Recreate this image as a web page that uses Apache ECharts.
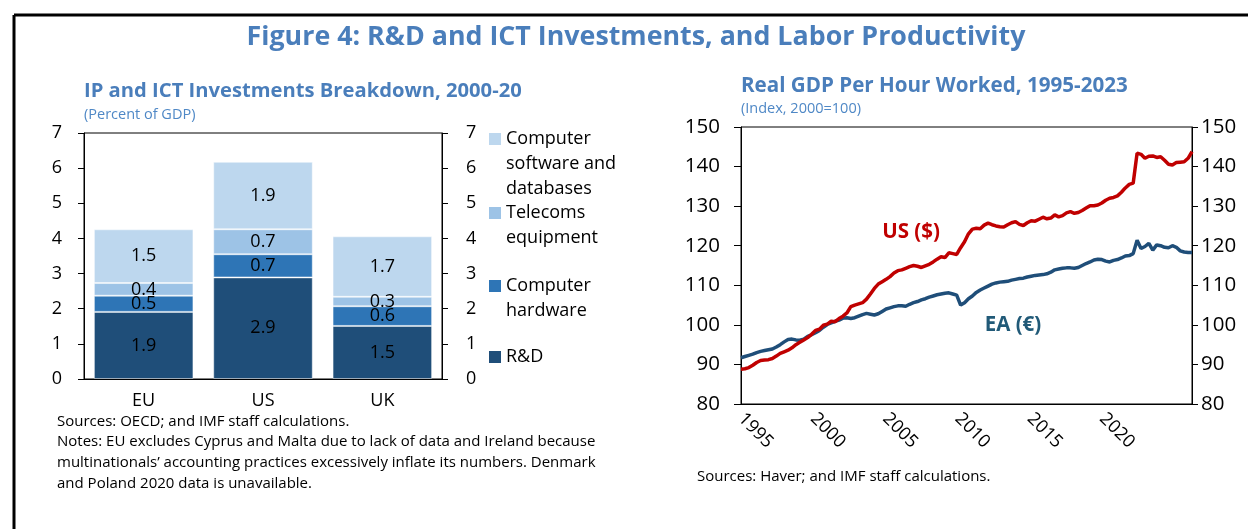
<!DOCTYPE html>
<html>
<head>
<meta charset="utf-8">
<script src="https://cdn.jsdelivr.net/npm/echarts@6/dist/echarts.min.js"></script>
<style>
  html, body { margin: 0; padding: 0; background: #fff; }
  #chart { width: 1248px; height: 529px; }
</style>
</head>
<body>
<div id="chart"></div>
<script>
// left panel: IP and ICT investments, percent of GDP
var countries = ['EU', 'US', 'UK'];
var rnd = [1.91, 2.89, 1.51];
var hardware = [0.46, 0.66, 0.56];
var telecoms = [0.36, 0.71, 0.27];
var software = [1.53, 1.92, 1.72];

// right panel: real GDP per hour worked, quarterly 1995Q1-2023Q4
var usIndex = [
  88.8, 88.9, 89.2, 89.8,  90.5, 91.0, 91.1, 91.2,  91.5, 92.1, 92.8, 93.2,
  93.6, 94.2, 95.0, 95.6,  96.2, 96.8, 97.6, 98.6,  98.9, 99.9, 100.2, 100.9,
  100.8, 101.6, 102.2, 103.0,  104.6, 105.0, 105.3, 105.6,  106.5, 107.8, 109.2, 110.3,
  110.9, 111.5, 112.2, 113.1,  113.7, 113.9, 114.3, 114.7,  115.0, 114.8, 114.5, 114.9,
  115.3, 115.9, 116.6, 117.2,  117.0, 118.2, 118.0, 117.8,  119.5, 121.0, 123.0, 124.2,
  124.4, 124.3, 125.2, 125.7,  125.3, 125.0, 124.8, 124.7,  125.3, 125.8, 126.1, 125.4,
  125.1, 125.8, 126.3, 126.2,  126.7, 127.2, 126.8, 127.0,  127.8, 127.3, 127.6, 128.3,
  128.6, 128.2, 128.4, 128.9,  129.5, 130.1, 130.1, 130.3,  130.8, 131.5, 132.0, 132.2,
  132.6, 133.5, 134.6, 135.5,  135.8, 143.4, 143.1, 142.1,  142.6, 142.7, 142.3, 142.5,
  141.6, 140.6, 140.4, 141.0,  141.1, 141.2, 142.1, 143.8
];
var eaIndex = [
  91.7, 92.0, 92.3, 92.6,  93.0, 93.3, 93.5, 93.7,  93.9, 94.4, 95.0, 95.7,
  96.3, 96.4, 96.2, 96.1,  96.4, 97.1, 97.5, 98.0,  98.6, 99.4, 100.1, 100.5,
  100.9, 101.2, 101.7, 101.8,  101.6, 101.8, 102.2, 102.6,  102.9, 102.7, 102.5, 102.8,
  103.4, 104.0, 104.3, 104.6,  104.8, 104.8, 104.7, 105.2,  105.6, 105.9, 106.3, 106.6,
  107.0, 107.3, 107.6, 107.8,  108.0, 108.1, 107.8, 107.5,  105.0, 105.6, 106.6, 107.3,
  108.2, 108.8, 109.3, 109.8,  110.3, 110.6, 110.8, 110.9,  111.0, 111.3, 111.5, 111.7,
  111.8, 112.1, 112.3, 112.5,  112.6, 112.7, 112.9, 113.3,  113.9, 114.1, 114.3, 114.4,
  114.4, 114.3, 114.5, 115.0,  115.5, 115.9, 116.4, 116.6,  116.5, 116.1, 115.9, 116.3,
  116.5, 116.9, 117.4, 117.5,  118.0, 121.4, 119.3, 119.8,  120.6, 118.9, 120.2, 120.0,
  119.6, 119.5, 120.0, 119.6,  118.7, 118.4, 118.3, 118.3
];
var yearTicks = [1995, 2000, 2005, 2010, 2015, 2020];

var quarters = [];
for (var y = 1995; y <= 2023; y++) {
  for (var q = 1; q <= 4; q++) quarters.push(y + 'Q' + q);
}

var font = '"Open Sans", "Noto Sans", sans-serif';
var titleBlue = '#4A7EBB';
var subBlue = '#4F88C6';
var colors = { rnd: '#1F4E79', hw: '#2E75B6', tel: '#9DC3E6', sw: '#BDD7EE' };

function txt(text, x, y, size, opts) {
  opts = opts || {};
  return {
    type: 'text', silent: true,
    style: {
      text: text, x: x, y: y,
      fontFamily: opts.family || font,
      fontSize: size,
      fontWeight: opts.weight || 'normal',
      fill: opts.color || '#000',
      textAlign: opts.align || 'left',
      textVerticalAlign: 'middle'
    }
  };
}

var legendItems = [
  { lines: ['Computer', 'software and', 'databases'], color: colors.sw, y: 139 },
  { lines: ['Telecoms', 'equipment'], color: colors.tel, y: 213 },
  { lines: ['Computer', 'hardware'], color: colors.hw, y: 286 },
  { lines: ['R&D'], color: colors.rnd, y: 357 }
];

var graphics = [
  { type: 'line', shape: { x1: 14, y1: 15, x2: 1248, y2: 15 }, style: { stroke: '#000', lineWidth: 3 } },
  { type: 'line', shape: { x1: 14, y1: 15, x2: 14, y2: 529 }, style: { stroke: '#000', lineWidth: 3 } },
  txt('Figure 4: R&D and ICT Investments, and Labor Productivity', 636, 37, 26.8, { weight: 'bold', color: titleBlue, align: 'center' }),
  txt('IP and ICT Investments Breakdown, 2000-20', 84, 91, 20.2, { weight: 'bold', color: titleBlue }),
  txt('(Percent of GDP)', 84, 115, 14.5, { color: subBlue }),
  txt('Real GDP Per Hour Worked, 1995-2023', 741, 86, 20.6, { weight: 'bold', color: titleBlue }),
  txt('(Index, 2000=100)', 741, 109, 14.5, { color: subBlue }),
  txt('Sources: OECD; and IMF staff calculations.', 57, 422, 15),
  txt('Notes: EU excludes Cyprus and Malta due to lack of data and Ireland because', 57, 442, 15),
  txt('multinationals\u2019 accounting practices excessively inflate its numbers. Denmark', 57, 463, 15),
  txt('and Poland 2020 data is unavailable.', 57, 484, 15),
  txt('Sources: Haver; and IMF staff calculations.', 697, 477, 15),
  txt('US ($)', 911, 232, 20.5, { weight: 'bold', color: '#C00000', align: 'center' }),
  txt('EA (\u20ac)', 1013, 325, 20.5, { weight: 'bold', color: '#215A78', align: 'center' })
];
legendItems.forEach(function (it) {
  graphics.push({ type: 'rect', shape: { x: 489, y: it.y - 6, width: 12, height: 12 }, style: { fill: it.color } });
  it.lines.forEach(function (line, i) {
    graphics.push(txt(line, 506, it.y + i * 25, 18));
  });
});

var axisLineStyle = { color: '#000', width: 1 };
var tickLabel = { color: '#000', fontSize: 18, fontFamily: font };
var tickLabelBig = { color: '#000', fontSize: 20.5, fontFamily: font };

function barSeries(name, data, color) {
  return {
    name: name, type: 'bar', stack: 'total', xAxisIndex: 0, yAxisIndex: 0,
    data: data, barCategoryGap: '16.6%',
    itemStyle: { color: color, borderColor: 'rgba(255,255,255,0.45)', borderWidth: 1 },
    label: {
      show: true, position: 'inside', color: '#000', fontSize: 18, fontFamily: font,
      formatter: function (p) { return p.value.toFixed(1); }
    }
  };
}

var chart = echarts.init(document.getElementById('chart'), null, { renderer: 'canvas' });
chart.setOption({
  backgroundColor: '#fff',
  animation: false,
  grid: [
    { left: 84, right: 806, top: 133, bottom: 150, show: true, borderColor: '#000', borderWidth: 1 },
    { left: 741, right: 56, top: 127, bottom: 125, show: true, borderColor: '#000', borderWidth: 1 }
  ],
  xAxis: [
    {
      type: 'category', gridIndex: 0, data: countries,
      axisLine: { lineStyle: axisLineStyle }, axisTick: { show: false },
      axisLabel: Object.assign({ margin: 13 }, tickLabel)
    },
    {
      type: 'category', gridIndex: 1, data: quarters, boundaryGap: false, position: 'bottom',
      axisLine: { lineStyle: axisLineStyle }, axisTick: { show: false }, axisLabel: { show: false }
    },
    {
      type: 'value', gridIndex: 1, min: 1995, max: 2026.19, interval: 5, position: 'bottom',
      axisLine: { show: false }, axisTick: { show: false }, splitLine: { show: false },
      axisLabel: Object.assign({
        rotate: -45, margin: 12, customValues: yearTicks,
        formatter: function (v) { return String(v); }
      }, tickLabel)
    }
  ],
  yAxis: [
    {
      type: 'value', gridIndex: 0, min: 0, max: 7, interval: 1, position: 'left',
      axisLine: { show: true, lineStyle: axisLineStyle },
      axisTick: { show: true, length: 6, lineStyle: axisLineStyle },
      splitLine: { show: false },
      axisLabel: Object.assign({ margin: 22 }, tickLabel)
    },
    {
      type: 'value', gridIndex: 0, min: 0, max: 7, interval: 1, position: 'right',
      axisLine: { show: true, lineStyle: axisLineStyle },
      axisTick: { show: true, length: 6, lineStyle: axisLineStyle },
      splitLine: { show: false },
      axisLabel: Object.assign({ margin: 24 }, tickLabel)
    },
    {
      type: 'value', gridIndex: 1, min: 80, max: 150, interval: 10, position: 'left',
      axisLine: { show: true, lineStyle: axisLineStyle },
      axisTick: { show: true, length: 7, lineStyle: axisLineStyle },
      splitLine: { show: false },
      axisLabel: Object.assign({ margin: 21 }, tickLabelBig)
    },
    {
      type: 'value', gridIndex: 1, min: 80, max: 150, interval: 10, position: 'right',
      axisLine: { show: true, lineStyle: axisLineStyle },
      axisTick: { show: true, length: 6, lineStyle: axisLineStyle },
      splitLine: { show: false },
      axisLabel: Object.assign({ margin: 9 }, tickLabelBig)
    }
  ],
  series: [
    barSeries('R&D', rnd, colors.rnd),
    barSeries('Computer hardware', hardware, colors.hw),
    barSeries('Telecoms equipment', telecoms, colors.tel),
    barSeries('Computer software and databases', software, colors.sw),
    {
      name: 'EA', type: 'line', xAxisIndex: 1, yAxisIndex: 2, data: eaIndex,
      showSymbol: false, lineStyle: { color: '#1F4E79', width: 3.5 }
    },
    {
      name: 'US', type: 'line', xAxisIndex: 1, yAxisIndex: 2, data: usIndex,
      showSymbol: false, lineStyle: { color: '#C00000', width: 3.5 }
    }
  ],
  graphic: graphics
});
window.addEventListener('resize', chart.resize);
</script>
</body>
</html>
